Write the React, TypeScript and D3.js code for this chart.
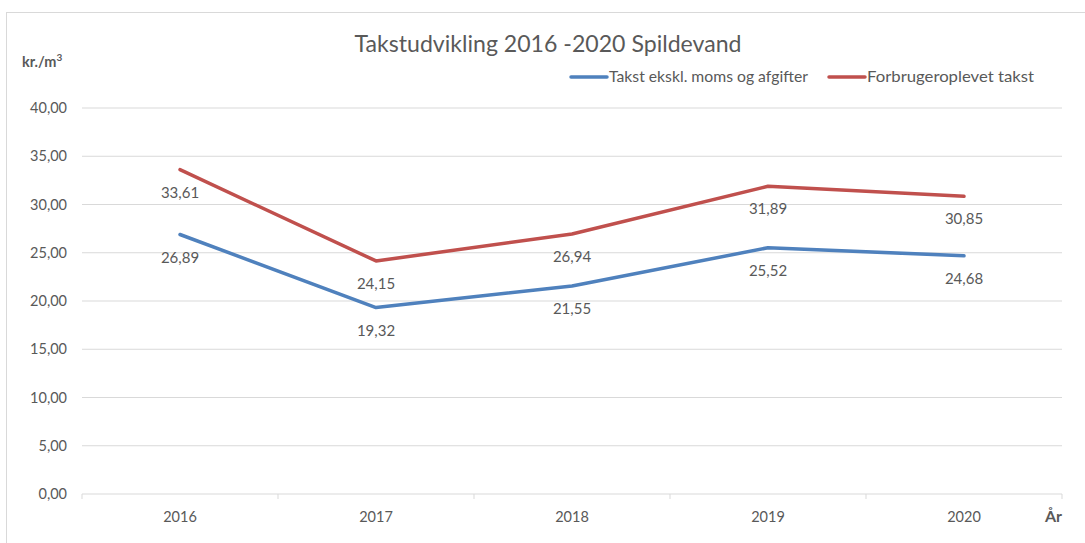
import React from "react";
import * as d3 from "d3";

const years = ["2016", "2017", "2018", "2019", "2020"];
const taktEkskl = [26.89, 19.32, 21.55, 25.52, 24.68];
const forbruger = [33.61, 24.15, 26.94, 31.89, 30.85];
const yTicks = [0, 5, 10, 15, 20, 25, 30, 35, 40];
const seriesNames = ["Takst ekskl. moms og afgifter", "Forbrugeroplevet takst"];

const W = 1085;
const H = 543;
const left = 82;
const right = 1062;
const top = 108;
const bottom = 494;
const font = "Lato, 'Open Sans', sans-serif";
const txt = "#595959";

export default function App() {
  const x = d3.scaleBand<string>().domain(years).range([left, right]).padding(0);
  const y = d3.scaleLinear().domain([0, 40]).range([bottom, top]);
  const cx = (d: string) => (x(d) as number) + x.bandwidth() / 2;
  const fmt = (v: number) => v.toFixed(2).replace(".", ",");
  const line = d3
    .line<number>()
    .x((_, i) => cx(years[i]))
    .y((v) => y(v));
  const series = [
    { name: seriesNames[0], data: taktEkskl, color: "#4f81bd" },
    { name: seriesNames[1], data: forbruger, color: "#c0504d" },
  ];
  const tickXs = years.map((d) => x(d) as number).concat([right]);
  return (
    <svg width={W} height={H} style={{ position: "absolute", left: 0, top: 0 }} fontFamily={font}>
      <rect x={0} y={0} width={W} height={H} fill="#fff" />
      <rect x={6.5} y={12.5} width={1100} height={560} fill="none" stroke="#d9d9d9" strokeWidth={1} />
      <text x={548} y={52} textAnchor="middle" fontSize={22.5} fill={txt} textLength={387} lengthAdjust="spacingAndGlyphs">
        Takstudvikling 2016 -2020 Spildevand
      </text>
      <text x={22} y={67} fontSize={14.5} fontWeight="bold" fill={txt}>
        kr./m<tspan fontSize={10} dy={-6}>3</tspan>
      </text>
      {yTicks.map((t) => (
        <g key={t}>
          {t > 0 && (
            <line x1={left} x2={right} y1={y(t)} y2={y(t)} stroke="#d9d9d9" strokeWidth={1} />
          )}
          <text x={67} y={y(t) + 5} textAnchor="end" fontSize={14.5} fill={txt}>
            {fmt(t)}
          </text>
        </g>
      ))}
      <line x1={left} x2={right} y1={bottom} y2={bottom} stroke="#d9d9d9" strokeWidth={1} />
      {tickXs.map((tx, i) => (
        <line key={i} x1={tx} x2={tx} y1={bottom} y2={bottom + 5} stroke="#d9d9d9" strokeWidth={1} />
      ))}
      {years.map((d) => (
        <text key={d} x={cx(d)} y={522} textAnchor="middle" fontSize={14.5} fill={txt}>
          {d}
        </text>
      ))}
      <text x={1062} y={522} textAnchor="end" fontSize={16} fontWeight="bold" fill={txt}>
        År
      </text>
      {series.map((s) => (
        <g key={s.name}>
          <path d={line(s.data) || ""} fill="none" stroke={s.color} strokeWidth={3.5} strokeLinejoin="round" strokeLinecap="round" />
          {s.data.map((v, i) => (
            <text key={i} x={cx(years[i])} y={y(v) + 28} textAnchor="middle" fontSize={15} fill={txt}>
              {fmt(v)}
            </text>
          ))}
        </g>
      ))}
      {series.map((s, i) => {
        const lx = i === 0 ? 571 : 829;
        const tl = i === 0 ? 199 : 167;
        return (
          <g key={"lg" + i}>
            <line x1={lx} x2={lx + 36} y1={77} y2={77} stroke={s.color} strokeWidth={3.5} strokeLinecap="round" />
            <text x={lx + 38} y={82} fontSize={15} fill={txt} textLength={tl} lengthAdjust="spacingAndGlyphs">
              {s.name}
            </text>
          </g>
        );
      })}
    </svg>
  );
}
